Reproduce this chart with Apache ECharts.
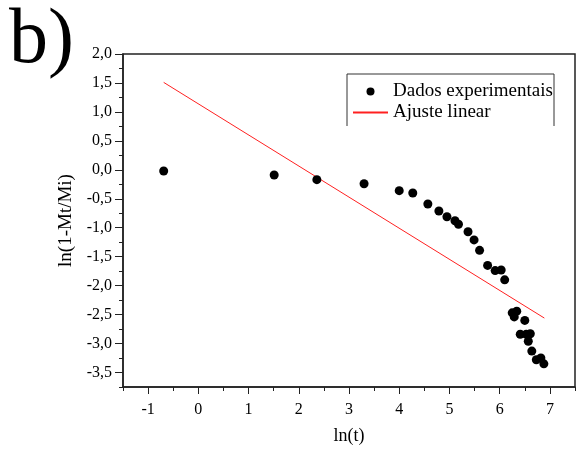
<!DOCTYPE html>
<html>
<head>
<meta charset="utf-8">
<script src="https://cdn.jsdelivr.net/npm/echarts@6/dist/echarts.min.js"></script>
<style>
  html, body { margin: 0; padding: 0; background: #fff; }
  #chart { width: 577px; height: 450px; }
</style>
</head>
<body>
<div id="chart"></div>
<script>
// dados
const lnT = [-0.69, 1.51, 2.36, 3.30, 4.00, 4.27, 4.57, 4.79, 4.95, 5.11, 5.18, 5.37, 5.49, 5.60, 5.76,
  5.91, 6.03, 6.10, 6.25, 6.29, 6.34, 6.50, 6.41, 6.53, 6.61, 6.57, 6.64, 6.73, 6.82, 6.88]
const lnM = [-0.02, -0.09, -0.17, -0.24, -0.36, -0.40, -0.59, -0.71, -0.81, -0.88, -0.94, -1.07, -1.21, -1.39, -1.65,
  -1.74, -1.73, -1.90, -2.47, -2.54, -2.44, -2.60, -2.84, -2.84, -2.83, -2.96, -3.13, -3.28, -3.25, -3.35]
const fitX = [-0.69, 6.89]
const fitY = [1.51, -2.56]

const xTicks = [-1, 0, 1, 2, 3, 4, 5, 6, 7]
const xMinor = [-1.5, -0.5, 0.5, 1.5, 2.5, 3.5, 4.5, 5.5, 6.5, 7.5]
const yTicks = [-3.5, -3, -2.5, -2, -1.5, -1, -0.5, 0, 0.5, 1, 1.5, 2]
const yMinor = [-3.75, -3.25, -2.75, -2.25, -1.75, -1.25, -0.75, -0.25, 0.25, 0.75, 1.25, 1.75]

const serif = 'Liberation Serif'
const comma = v => v.toFixed(1).replace('.', ',')

const chart = echarts.init(document.getElementById('chart'))
chart.setOption({
  animation: false,
  textStyle: { fontFamily: serif, color: '#000' },
  grid: {
    left: 123, right: 2, top: 54, bottom: 59,
    show: true, borderColor: '#222', borderWidth: 1.5
  },
  xAxis: [
    {
      type: 'value', min: -1.5, max: 7.5,
      name: 'ln(t)', nameLocation: 'middle', nameGap: 40,
      nameTextStyle: { fontFamily: serif, fontSize: 18, color: '#000' },
      splitLine: { show: false },
      axisLine: { onZero: false, lineStyle: { color: '#222', width: 1.5 } },
      axisTick: { customValues: xTicks, length: 7, lineStyle: { color: '#222' } },
      axisLabel: { customValues: xTicks, margin: 15, fontFamily: serif, fontSize: 16, color: '#000' }
    },
    {
      type: 'value', min: -1.5, max: 7.5, position: 'bottom',
      splitLine: { show: false },
      axisLine: { show: false, onZero: false },
      axisTick: { customValues: xMinor, length: 4, lineStyle: { color: '#222' } },
      axisLabel: { show: false }
    }
  ],
  yAxis: [
    {
      type: 'value', min: -3.75, max: 2,
      name: 'ln(1-Mt/Mi)', nameLocation: 'middle', nameGap: 43,
      nameTextStyle: { fontFamily: serif, fontSize: 19, color: '#000' },
      splitLine: { show: false },
      axisLine: { show: true, onZero: false, lineStyle: { color: '#222', width: 1.5 } },
      axisTick: { show: true, customValues: yTicks, length: 8, lineStyle: { color: '#222' } },
      axisLabel: { customValues: yTicks, formatter: comma, margin: 11, fontFamily: serif, fontSize: 16, color: '#000' }
    },
    {
      type: 'value', min: -3.75, max: 2, position: 'left',
      splitLine: { show: false },
      axisLine: { show: false, onZero: false },
      axisTick: { show: true, customValues: yMinor, length: 4, lineStyle: { color: '#222' } },
      axisLabel: { show: false }
    }
  ],
  legend: {
    orient: 'vertical', left: 352, top: 82, padding: 0,
    itemWidth: 35, itemHeight: 8, itemGap: 2,
    textStyle: { fontFamily: serif, fontSize: 19, color: '#000' },
    data: [
      { name: 'Dados experimentais', icon: 'circle' },
      { name: 'Ajuste linear', itemStyle: { opacity: 0 } }
    ]
  },
  graphic: [
    {
      type: 'text', left: 9, top: 3,
      style: { text: 'b)', font: '78px "Liberation Serif"', fill: '#000' }
    },
    {
      type: 'polyline', silent: true,
      shape: { points: [[347, 126], [347, 74], [554, 74], [554, 126]] },
      style: { stroke: '#333', lineWidth: 1, fill: null }
    }
  ],
  series: [
    {
      name: 'Ajuste linear', type: 'line',
      data: fitX.map((x, i) => [x, fitY[i]]),
      symbol: 'none', lineStyle: { color: '#ff2020', width: 1 },
      itemStyle: { color: '#ff2020' }, z: 2
    },
    {
      name: 'Dados experimentais', type: 'scatter',
      data: lnT.map((x, i) => [x, lnM[i]]),
      symbol: 'circle', symbolSize: 9,
      itemStyle: { color: '#000', opacity: 1 }, z: 3
    }
  ]
})
</script>
</body>
</html>
